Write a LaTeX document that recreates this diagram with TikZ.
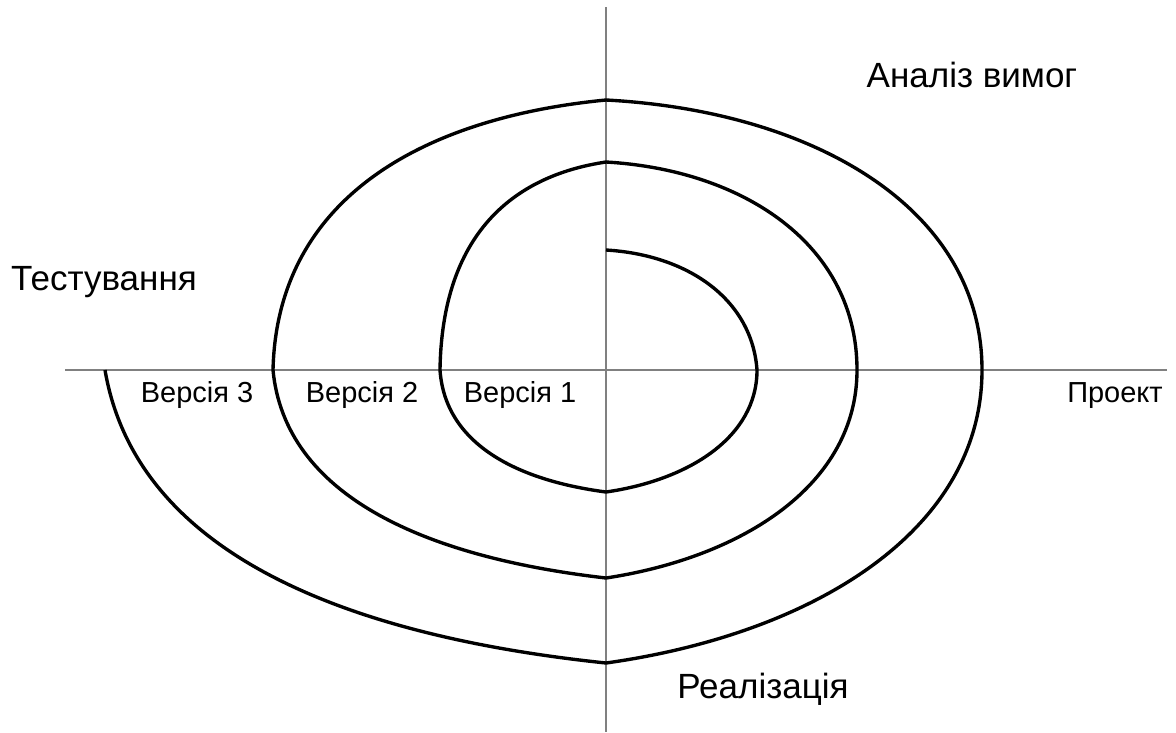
\documentclass[tikz,border=0pt]{standalone}
\usepackage{fontspec}
\setmainfont{Liberation Sans}
\usetikzlibrary{positioning}
\definecolor{axisgray}{RGB}{128,128,128}

\begin{document}
\begin{tikzpicture}[
    x=0.025cm, y=-0.025cm,
    axis/.style={draw=axisgray, line width=2pt},
    spiral/.style={draw=black, line width=2.4pt, line join=round},
    phase/.style={font=\fontsize{24.9}{30}\selectfont, anchor=base, inner sep=0pt},
    version/.style={font=\fontsize{20.6}{25}\selectfont, anchor=base, inner sep=0pt}
]
\useasboundingbox (0,0) rectangle (1176,732);

% Axes
\coordinate (ytop) at (606,7);
\coordinate (ybot) at (606,732);
\coordinate (xleft) at (65,370);
\coordinate (xright) at (1167,370);
\draw[axis] (ytop) -- (ybot);
\draw[axis] (xleft) -- (xright);

% Spiral crossings
\coordinate (start) at (606,250);
\coordinate (r1) at (757,370);
\coordinate (b1) at (606,492);
\coordinate (l1) at (440,370);
\coordinate (t2) at (606,162);
\coordinate (r2) at (857,370);
\coordinate (b2) at (606,578);
\coordinate (l2) at (273,370);
\coordinate (t3) at (606,100);
\coordinate (r3) at (982,370);
\coordinate (b3) at (606,663);
\coordinate (end) at (105,370);

% Spiral
\draw[spiral] (start)
    .. controls (689,255) and (752,300) .. (r1)
    .. controls (757,437) and (689,480) .. (b1)
    .. controls (515,480) and (445,443) .. (l1)
    .. controls (442,235) and (512,176) .. (t2)
    .. controls (744,170) and (857,245) .. (r2)
    .. controls (857,484) and (744,557) .. (b2)
    .. controls (423,557) and (285,495) .. (l2)
    .. controls (277,200) and (420,118) .. (t3)
    .. controls (813,111) and (982,208) .. (r3)
    .. controls (982,531) and (813,634) .. (b3)
    .. controls (330,634) and (135,546) .. (end);

% Phases
\node[phase] (analysis) at (972,87) {Аналіз вимог};
\node[phase] (testing) at (104,290) {Тестування};
\node[phase] (impl) at (763,698) {Реалізація};
\node[version] (design) at (1115,402) {Проект};

% Versions
\node[version] (v3) at (197,402) {Версія 3};
\node[version] (v2) at (362,402) {Версія 2};
\node[version] (v1) at (520,402) {Версія 1};

\end{tikzpicture}
\end{document}
